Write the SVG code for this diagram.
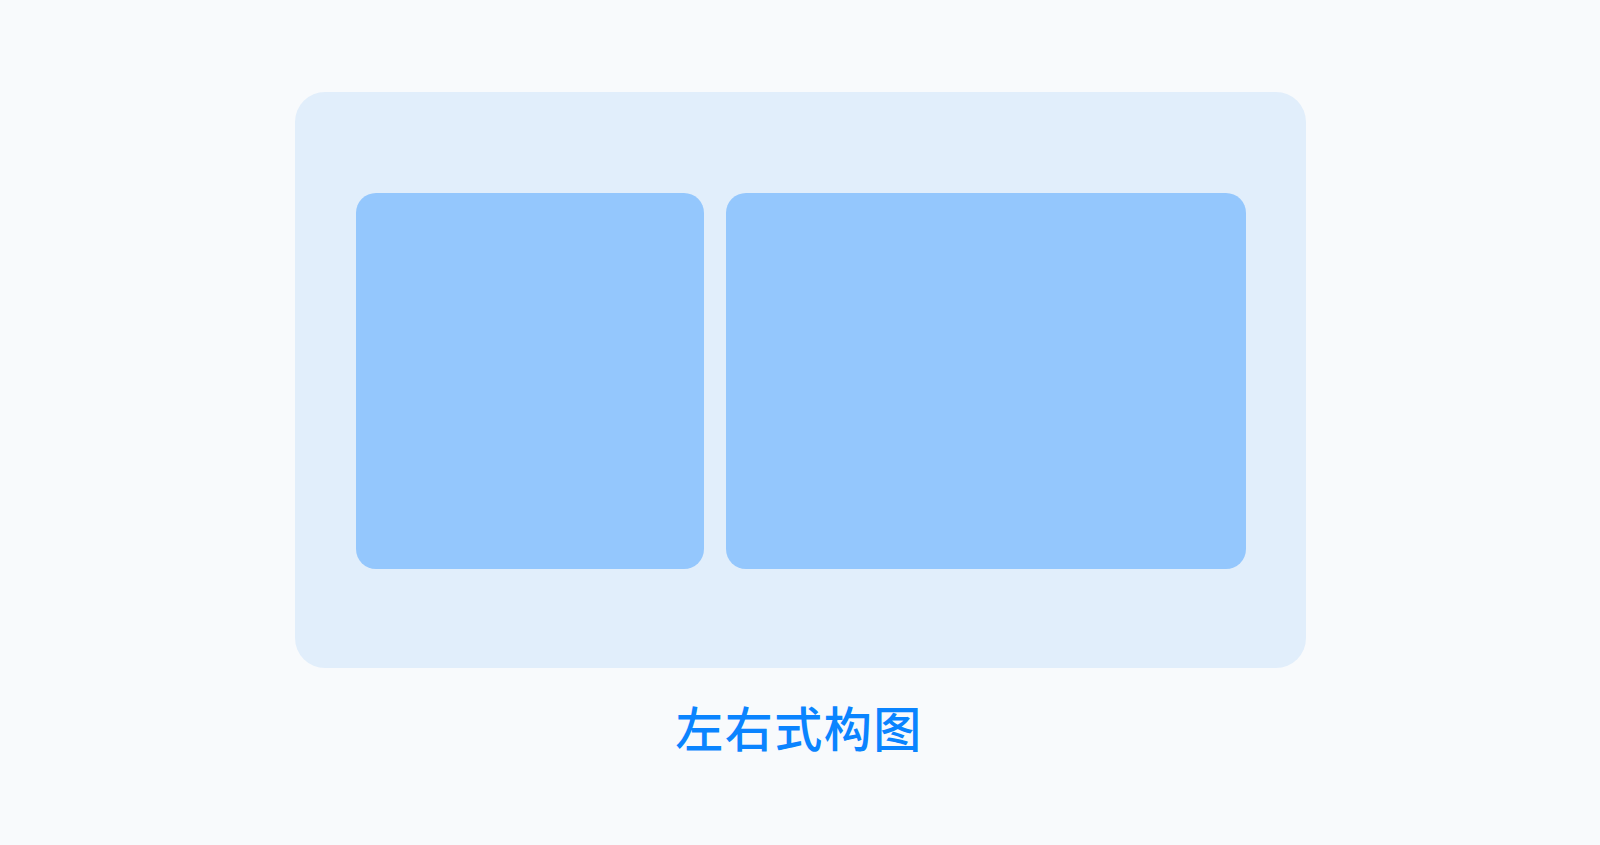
<svg xmlns="http://www.w3.org/2000/svg" width="1600" height="845" viewBox="0 0 1600 845">
  <style>
    .bg { fill: #F8FAFC; }
    .frame { fill: #E1EEFB; }
    .panel { fill: #94C7FD; }
    .caption { font-family: "Noto Sans CJK SC", "Noto Sans", sans-serif; font-size: 48px; font-weight: 500; fill: #0A84FF; text-anchor: middle; letter-spacing: 1.5px; }
  </style>
  <rect class="bg" x="0" y="0" width="1600" height="845"/>
  <g id="frame">
    <rect class="frame" x="295" y="92" width="1011" height="576" rx="30" ry="30"/>
  </g>
  <g id="left-panel">
    <rect class="panel" x="356" y="193" width="348" height="376" rx="20" ry="20"/>
  </g>
  <g id="right-panel">
    <rect class="panel" x="726" y="193" width="520" height="376" rx="20" ry="20"/>
  </g>
  <g id="connectors"></g>
  <g id="caption">
    <text class="caption" x="799" y="747">左右式构图</text>
  </g>
</svg>
